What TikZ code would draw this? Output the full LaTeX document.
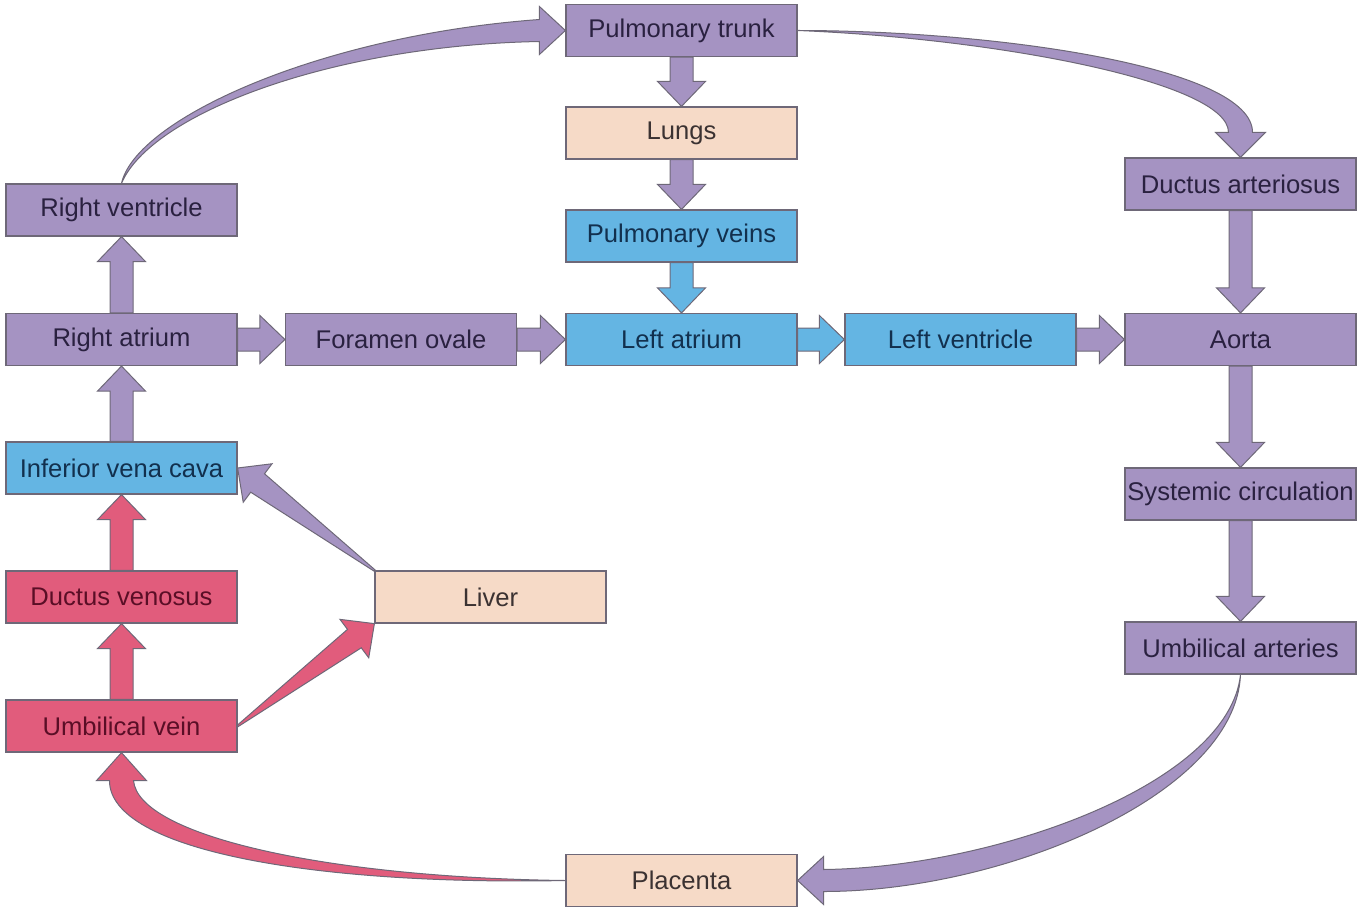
\documentclass[tikz,border=0pt]{standalone}
\usepackage{fontspec}
\setmainfont{Liberation Sans}
\usepackage{tikz}
\usetikzlibrary{calc}

\definecolor{purplebox}{HTML}{A593C2}
\definecolor{bluebox}{HTML}{64B5E3}
\definecolor{peachbox}{HTML}{F6DAC7}
\definecolor{pinkbox}{HTML}{E15C7C}
\definecolor{edgegray}{HTML}{6E6878}
\definecolor{purpletext}{HTML}{2A2140}
\definecolor{bluetext}{HTML}{12304E}
\definecolor{pinktext}{HTML}{5A0E26}
\definecolor{peachtext}{HTML}{3B3232}

\tikzset{
  box/.style={draw=edgegray, line width=0.6pt, minimum width=115.5pt, minimum height=26pt,
    inner sep=0pt, font=\fontsize{12.8}{15}\selectfont},
  pbox/.style={fill=purplebox, text=purpletext},
  bbox/.style={fill=bluebox, text=bluetext},
  rbox/.style={fill=pinkbox, text=pinktext},
  obox/.style={fill=peachbox, text=peachtext},
  arrowline/.style={draw=edgegray, line width=0.5pt, line join=miter}
}

% fill colour, start, end, half width at the start
\newcommand{\fatarrow}[4]{%
  \coordinate (fa-base) at ($(#3)!12.5pt!(#2)$);
  \filldraw[arrowline, fill=#1]
    ($(#2)!#4!90:(#3)$) -- ($(fa-base)!5.75pt!-90:(#2)$) -- ($(fa-base)!12pt!-90:(#2)$)
    -- (#3) -- ($(fa-base)!12pt!90:(#2)$) -- ($(fa-base)!5.75pt!90:(#2)$)
    -- ($(#2)!#4!-90:(#3)$) -- cycle;}

\begin{document}
\begin{tikzpicture}[x=0.5pt, y=-0.5pt]
  \useasboundingbox (0,0) rectangle (1368,909);

  \node[box, pbox] (pt) at (681.5,30.5) {Pulmonary trunk};
  \node[box, obox] (lungs) at (681.5,133) {Lungs};
  \node[box, bbox] (pv) at (681.5,236) {Pulmonary veins};
  \node[box, bbox] (la) at (681.5,339.5) {Left atrium};
  \node[box, pbox] (rv) at (121.5,210) {Right ventricle};
  \node[box, pbox] (ra) at (121.5,339.5) {Right atrium};
  \node[box, pbox] (fo) at (401,339.5) {Foramen ovale};
  \node[box, bbox] (lv) at (960.5,339.5) {Left ventricle};
  \node[box, pbox] (ao) at (1240.5,339.5) {Aorta};
  \node[box, pbox] (da) at (1240.5,184) {Ductus arteriosus};
  \node[box, pbox] (sc) at (1240.5,494) {Systemic circulation};
  \node[box, pbox] (ua) at (1240.5,648) {Umbilical arteries};
  \node[box, bbox] (ivc) at (121.5,468) {Inferior vena cava};
  \node[box, rbox] (dv) at (121.5,597) {Ductus venosus};
  \node[box, rbox] (uv) at (121.5,726) {Umbilical vein};
  \node[box, obox] (liver) at (490.5,597) {Liver};
  \node[box, obox] (pl) at (681.5,880.5) {Placenta};

  % straight arrows
  \fatarrow{purplebox}{pt.south}{lungs.north}{5.75pt}
  \fatarrow{purplebox}{lungs.south}{pv.north}{5.75pt}
  \fatarrow{bluebox}{pv.south}{la.north}{5.75pt}
  \fatarrow{purplebox}{ra.north}{rv.south}{5.75pt}
  \fatarrow{purplebox}{ivc.north}{ra.south}{5.75pt}
  \fatarrow{pinkbox}{dv.north}{ivc.south}{5.75pt}
  \fatarrow{pinkbox}{uv.north}{dv.south}{5.75pt}
  \fatarrow{purplebox}{ra.east}{fo.west}{5.75pt}
  \fatarrow{purplebox}{fo.east}{la.west}{5.75pt}
  \fatarrow{bluebox}{la.east}{lv.west}{5.75pt}
  \fatarrow{purplebox}{lv.east}{ao.west}{5.75pt}
  \fatarrow{purplebox}{da.south}{ao.north}{5.75pt}
  \fatarrow{purplebox}{ao.south}{sc.north}{5.75pt}
  \fatarrow{purplebox}{sc.south}{ua.north}{5.75pt}
  \fatarrow{purplebox}{liver.north west}{ivc.east}{0.4pt}
  \fatarrow{pinkbox}{uv.east}{liver.south west}{0.4pt}

  % curved arrows
  \filldraw[arrowline, fill=purplebox] (rv.north)
    .. controls +(14,-64) and +(-220,16) .. ($(pt.west)+(-26,-11)$)
    -- ($(pt.west)+(-26,-24)$) -- (pt.west) -- ($(pt.west)+(-26,24)$) -- ($(pt.west)+(-26,11)$)
    .. controls +(-210,4) and +(29,-69) .. (rv.north) -- cycle;
  \filldraw[arrowline, fill=purplebox] (pt.east)
    .. controls +(200,0) and +(0,-65) .. ($(da.north)+(12,-25)$)
    -- ($(da.north)+(25,-25)$) -- (da.north) -- ($(da.north)+(-25,-25)$) -- ($(da.north)+(-12,-25)$)
    .. controls +(0,-50) and +(200,8) .. (pt.east) -- cycle;
  \filldraw[arrowline, fill=purplebox] (ua.south)
    .. controls +(-5,120) and +(180,0) .. ($(pl.east)+(26,11)$)
    -- ($(pl.east)+(26,24)$) -- (pl.east) -- ($(pl.east)+(26,-24)$) -- ($(pl.east)+(26,-11)$)
    .. controls +(170,-2) and +(-12,110) .. (ua.south) -- cycle;
  \filldraw[arrowline, fill=pinkbox] (pl.west)
    .. controls +(-250,5) and +(0,70) .. ($(uv.south)+(-12,28)$)
    -- ($(uv.south)+(-25,28)$) -- (uv.south) -- ($(uv.south)+(25,28)$) -- ($(uv.south)+(12,28)$)
    .. controls +(5,55) and +(-240,-3) .. (pl.west) -- cycle;
\end{tikzpicture}
\end{document}
